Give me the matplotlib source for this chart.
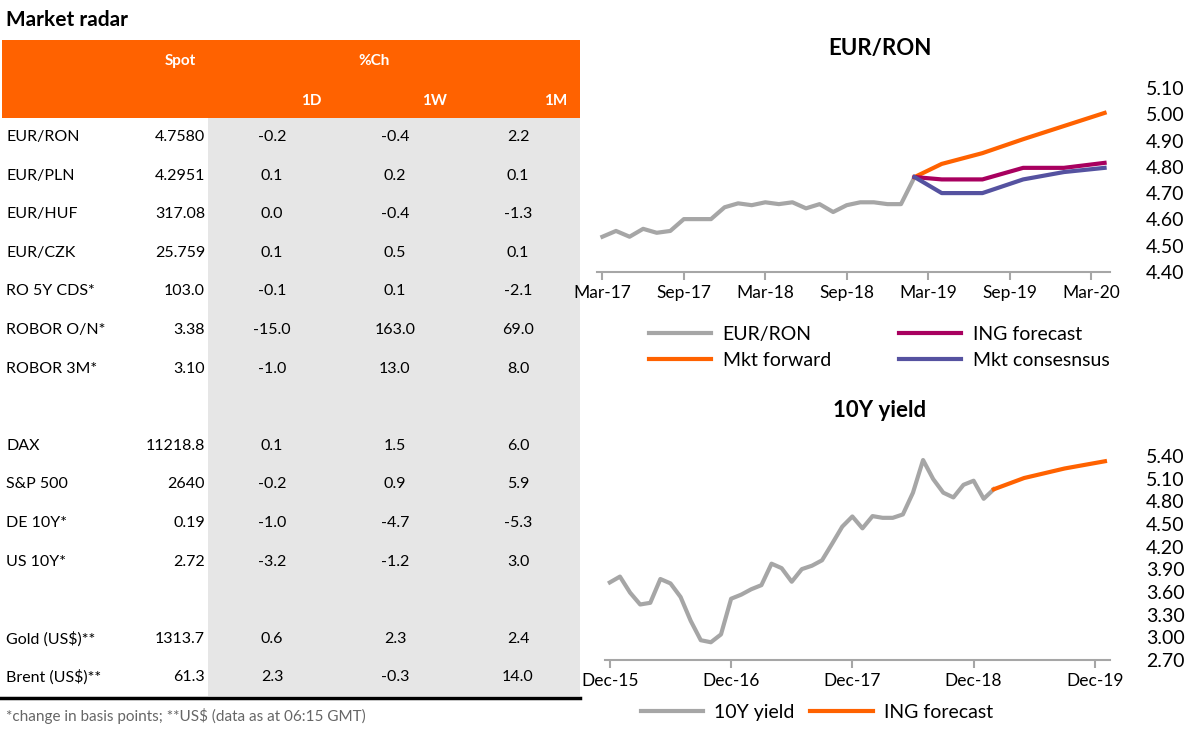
import numpy as np
import matplotlib
matplotlib.use("Agg")
import matplotlib.pyplot as plt
from matplotlib.patches import Rectangle

plt.rcParams['font.family'] = ['Lato', 'DejaVu Sans']

ORANGE = '#FF6200'
GREY = '#A6A6A6'
MAGENTA = '#A8005F'
PURPLE = '#5552A0'

# ---- table data
row_labels = ['EUR/RON', 'EUR/PLN', 'EUR/HUF', 'EUR/CZK', 'RO 5Y CDS*', 'ROBOR O/N*', 'ROBOR 3M*',
              '', 'DAX', 'S&P 500', 'DE 10Y*', 'US 10Y*', '', 'Gold (US$)**', 'Brent (US$)**']
spot = ['4.7580', '4.2951', '317.08', '25.759', '103.0', '3.38', '3.10',
        '', '11218.8', '2640', '0.19', '2.72', '', '1313.7', '61.3']
ch_1d = ['-0.2', '0.1', '0.0', '0.1', '-0.1', '-15.0', '-1.0', '', '0.1', '-0.2', '-1.0', '-3.2', '', '0.6', '2.3']
ch_1w = ['-0.4', '0.2', '-0.4', '0.5', '0.1', '163.0', '13.0', '', '1.5', '0.9', '-4.7', '-1.2', '', '2.3', '-0.3']
ch_1m = ['2.2', '0.1', '-1.3', '0.1', '-2.1', '69.0', '8.0', '', '6.0', '5.9', '-5.3', '3.0', '', '2.4', '14.0']

# ---- EUR/RON chart data (months from Mar-17)
ron_x = list(range(0, 24))
ron_y = [4.534, 4.556, 4.534, 4.564, 4.549, 4.556, 4.601, 4.601, 4.601, 4.646, 4.661, 4.654,
         4.665, 4.658, 4.665, 4.642, 4.658, 4.628, 4.654, 4.665, 4.665, 4.658, 4.658, 4.761]
fc_x = [23, 25, 28, 31, 34, 37]
mkt_forward = [4.761, 4.811, 4.852, 4.905, 4.955, 5.005]
ing_fc = [4.761, 4.752, 4.752, 4.796, 4.796, 4.815]
mkt_cons = [4.761, 4.70, 4.70, 4.752, 4.78, 4.796]
ron_ticks = [0, 6, 12, 18, 24, 30, 36]
ron_tick_labels = ['Mar-17', 'Sep-17', 'Mar-18', 'Sep-18', 'Mar-19', 'Sep-19', 'Mar-20']

# ---- 10Y yield data (months from Dec-15)
y10_x = list(range(0, 39))
y10_y = [3.726, 3.803, 3.591, 3.434, 3.456, 3.771, 3.713, 3.533, 3.218, 2.961, 2.934, 3.038,
         3.51, 3.564, 3.636, 3.69, 3.974, 3.915, 3.735, 3.902, 3.947, 4.019, 4.239, 4.464,
         4.599, 4.442, 4.604, 4.581, 4.581, 4.626, 4.914, 5.346, 5.094, 4.914, 4.851, 5.018,
         5.072, 4.833, 4.959]
y10_fc_x = [38, 41, 45, 49]
y10_fc = [4.959, 5.108, 5.234, 5.33]
y10_ticks = [0, 12, 24, 36, 48]
y10_tick_labels = ['Dec-15', 'Dec-16', 'Dec-17', 'Dec-18', 'Dec-19']

fig = plt.figure(figsize=(12, 7.39), dpi=100)

# background axes in pixel coordinates for the table
bg = fig.add_axes([0, 0, 1, 1])
bg.set_xlim(0, 1200)
bg.set_ylim(739, 0)
bg.axis('off')

bg.text(6, 20, 'Market radar', fontsize=15, fontweight='bold', va='center')
bg.add_patch(Rectangle((2, 40), 578, 78, color=ORANGE, lw=0))
bg.add_patch(Rectangle((208, 118), 372, 578, color='#E6E6E6', lw=0))
bg.plot([0, 580], [698, 698], color='black', lw=2.5)
hdr = dict(color='white', fontsize=11, fontweight='bold', va='center')
bg.text(180, 61, 'Spot', ha='center', **hdr)
bg.text(374, 61, '%Ch', ha='center', **hdr)
bg.text(322, 101, '1D', ha='right', **hdr)
bg.text(447, 101, '1W', ha='right', **hdr)
bg.text(567, 101, '1M', ha='right', **hdr)

for i, lab in enumerate(row_labels):
    y = 137 + i * 38.6
    if not lab:
        continue
    bg.text(6, y, lab, fontsize=11.5, va='center')
    bg.text(205, y, spot[i], fontsize=11.5, va='center', ha='right')
    bg.text(272, y, ch_1d[i], fontsize=11.5, va='center', ha='center')
    bg.text(395, y, ch_1w[i], fontsize=11.5, va='center', ha='center')
    bg.text(518, y, ch_1m[i], fontsize=11.5, va='center', ha='center')

bg.text(6, 716, '*change in basis points; **US$ (data as at 06:15 GMT)', fontsize=11, color='#666666', va='center')


def style(ax):
    for s in ['top', 'left', 'right']:
        ax.spines[s].set_visible(False)
    ax.spines['bottom'].set_color(GREY)
    ax.spines['bottom'].set_linewidth(1.5)
    ax.yaxis.tick_right()
    ax.tick_params(axis='y', length=0, labelsize=14, pad=26)
    ax.tick_params(axis='x', length=6, width=1.5, color=GREY, labelsize=12.5, direction='out')
    ax.patch.set_alpha(0)


# EUR/RON chart
ax1 = fig.add_axes([0.4975, 0.632, 0.4275, 0.249])
ax1.plot(ron_x, ron_y, color=GREY, lw=3, label='EUR/RON')
ax1.plot(fc_x, mkt_forward, color=ORANGE, lw=3, label='Mkt forward')
ax1.plot(fc_x, ing_fc, color=MAGENTA, lw=3, label='ING forecast')
ax1.plot(fc_x, mkt_cons, color=PURPLE, lw=3, label='Mkt consesnsus')
ax1.set_xlim(-0.4, 37.4)
ax1.set_ylim(4.40, 5.10)
ax1.set_yticks(np.arange(4.40, 5.101, 0.10))
ax1.set_yticklabels([f'{v:.2f}' for v in np.arange(4.40, 5.101, 0.10)])
ax1.set_xticks(ron_ticks)
ax1.set_xticklabels(ron_tick_labels)
style(ax1)
fig.text(0.733, 0.935, 'EUR/RON', fontsize=16, fontweight='bold', ha='center', va='center')
ax1.legend(loc='upper center', bbox_to_anchor=(0.55, -0.2), ncol=2, frameon=False,
           fontsize=14, handlelength=3.2, columnspacing=3.5, labelspacing=0.45,
           handletextpad=0.6)

# 10Y yield chart
ax2 = fig.add_axes([0.504, 0.107, 0.421, 0.276])
ax2.plot(y10_x, y10_y, color=GREY, lw=3, label='10Y yield')
ax2.plot(y10_fc_x, y10_fc, color=ORANGE, lw=3, label='ING forecast')
ax2.set_xlim(-0.5, 49.5)
ax2.set_ylim(2.70, 5.40)
yt = np.arange(2.70, 5.401, 0.30)
ax2.set_yticks(yt)
ax2.set_yticklabels([f'{v:.2f}' for v in yt])
ax2.set_xticks(y10_ticks)
ax2.set_xticklabels(y10_tick_labels)
style(ax2)
fig.text(0.733, 0.445, '10Y yield', fontsize=16, fontweight='bold', ha='center', va='center')
ax2.legend(loc='upper center', bbox_to_anchor=(0.42, -0.13), ncol=2, frameon=False,
           fontsize=14, handlelength=3.2, columnspacing=0.8, handletextpad=0.6)

fig.savefig('out.png', dpi=100)
